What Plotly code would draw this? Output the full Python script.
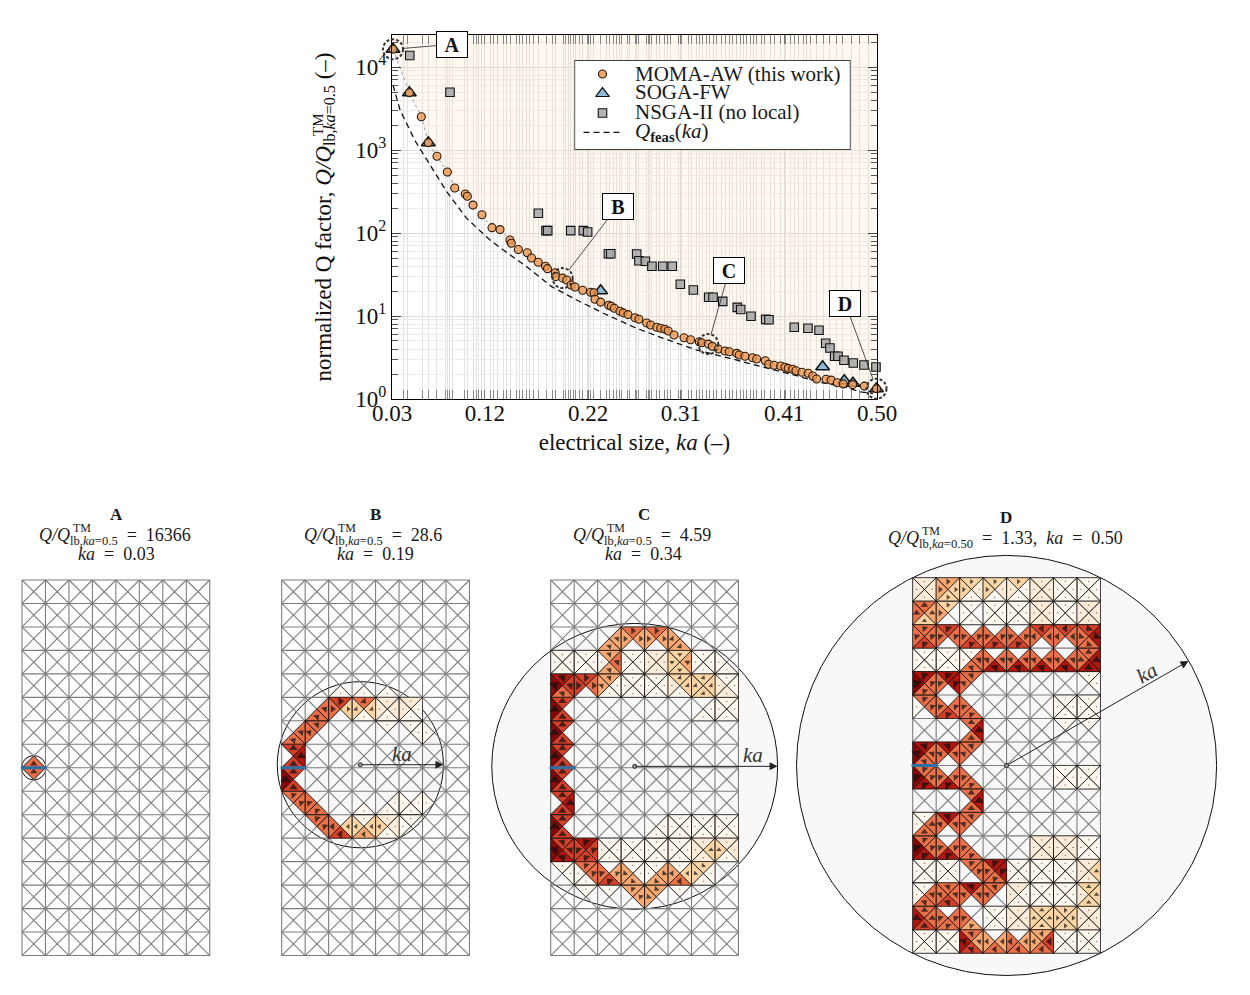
import math
import plotly.graph_objects as go

# ---------- main chart data ----------
moma_ka = [0.031,0.0468,0.0584,0.0652,0.0736,0.0836,0.0908,0.101,0.103,0.1085,0.1172,0.1269,0.1347,0.1443,0.1456,
           0.1524,0.1611,0.1652,0.1717,0.1787,0.1807,0.1882,0.1886,0.1954,0.1993,0.2035,0.2073,0.2148,0.2225,0.2257,
           0.2267,0.2322,0.24,0.2425,0.2454,0.2509,0.2541,0.2587,0.2655,0.2693,0.2768,0.2807,0.2865,0.2904,0.2945,
           0.2977,0.3033,0.313,0.3194,0.3278,0.3301,0.3365,0.3404,0.3462,0.3527,0.3568,0.364,0.3665,0.3721,0.3795,
           0.3834,0.3917,0.395,0.4002,0.4067,0.4108,0.414,0.4183,0.4215,0.4273,0.4334,0.4377,0.4415,0.4506,0.4554,
           0.4615,0.4673,0.4764,0.4877,0.4995]
moma_q = [16366,4900,2520,1224,840,543,349,295,277,217,166,116,110,82.4,75.2,
          63.2,57.9,50.0,44.4,39.7,37.2,33.2,29.8,28.6,27.2,23.6,22.4,20.4,19.3,19.1,
          15.9,14.7,13.5,13.1,12.4,11.4,10.9,10.4,9.51,9.15,8.24,7.79,7.31,7.11,6.92,
          6.60,5.90,5.48,5.18,4.90,4.77,4.59,4.31,4.00,3.79,3.71,3.55,3.39,3.27,3.14,
          3.03,2.89,2.62,2.55,2.50,2.41,2.34,2.28,2.19,2.10,2.04,1.89,1.74,1.73,1.69,
          1.57,1.52,1.49,1.43,1.33]
soga_ka = [0.031,0.0468,0.0652,0.2322,0.4473,0.4683,0.4767,0.4995]
soga_q = [16366,4900,1224,20.2,2.45,1.66,1.55,1.33]
nsga_ka = [0.0472,0.0862,0.1718,0.1792,0.1809,0.2032,0.2154,0.2196,0.2397,0.242,0.2671,0.2693,0.2755,0.2819,0.2923,
           0.3016,0.3094,0.322,0.3369,0.3411,0.3505,0.3646,0.3679,0.3779,0.3921,0.3953,0.4198,0.4331,0.4438,0.4503,
           0.4544,0.459,0.4622,0.468,0.477,0.4874,0.499]
nsga_q = [13800,4960,173,107,107,107,107,103,56.3,56.3,55.9,46.4,45.6,39.7,39.7,
          39.7,24.1,20.6,16.8,16.8,15.0,12.7,12.0,9.92,9.12,9.02,7.31,7.11,6.73,4.69,
          4.12,3.27,3.27,2.93,2.71,2.57,2.43]
feas_ka = [0.031,0.0378,0.0523,0.07,0.083,0.1024,0.125,0.1379,0.1605,0.1847,0.209,0.2348,0.2671,0.2929,0.3253,
           0.3575,0.3898,0.4222,0.4415,0.4673,0.4835,0.4961]
feas_q = [6070,3030,1295,574,315,150,82.4,62.4,39.3,22.6,15.6,10.8,7.11,5.39,3.89,
          3.09,2.45,1.91,1.62,1.41,1.22,1.17]
x_tick_vals = [0.03,0.12,0.22,0.31,0.41,0.50]
x_tick_text = ["0.03","0.12","0.22","0.31","0.41","0.50"]
y_tick_vals = [1,10,100,1000,10000]
y_tick_text = ["10<sup>0</sup>","10<sup>1</sup>","10<sup>2</sup>","10<sup>3</sup>","10<sup>4</sup>"]
x_minor = [0.0416,0.0455,0.0591,0.0649,0.0736,0.0814,0.0833,0.0862,0.0891,0.1007,0.1027,0.1085,0.1114,0.1143,0.1172,
           0.1201,0.125,0.1279,0.1327,0.1376,0.1414,0.1453,0.1511,0.154,0.1569,0.1608,0.1637,0.1676,0.1715,0.1802,
           0.1857,0.1889,0.196,0.1986,0.2008,0.2032,0.2057,0.2083,0.2115,0.2148,0.2192,0.2219,0.2251,0.2316,0.238,
           0.2406,0.2444,0.2471,0.2503,0.2526,0.258,0.2606,0.2655,0.2674,0.2693,0.2768,0.2781,0.28,0.2819,0.2865,
           0.2897,0.2945,0.2968,0.3001,0.3074,0.3107,0.3171,0.3204,0.3246,0.3278,0.3311,0.3349,0.3381,0.3413,0.3449,
           0.3491,0.3536,0.3568,0.3601,0.3643,0.3675,0.3708,0.374,0.3772,0.3805,0.3837,0.3885,0.3914,0.3966,0.4011,
           0.4063,0.4111,0.416,0.4205,0.4244,0.4283,0.4321,0.436,0.4418,0.4486,0.4544,0.4612,0.467,0.4757,0.4835,0.4922]
y_minor = [m * 10 ** e for e in range(5) for m in range(2, 10) if m * 10 ** e < 24000]
legend_labels = ["MOMA-AW (this work)", "SOGA-FW", "NSGA-II (no local)", "Qfeas(ka)"]
callout_names = ["A", "B", "C", "D"]
callout_ka = [0.031, 0.1954, 0.3365, 0.4995]
callout_q = [16366, 28.6, 4.59, 1.33]

# ---------- mesh panels: per cell top/right/bottom/left current level, '.' = no metal ----------
panel_a_rows = {7: "..5. .... .... .... .... .... .... ....",
                8: "5... .... .... .... .... .... .... ...."}
panel_b_rows = {4: ".... .... ..1. ..1. ..1. .... .... ....",
                5: ".... .55. 63.5 5313 2212 2112 .... ....",
                6: ".55. 5..5 .... .... 1... 11.. ...1 ....",
                7: "676. .... .... .... .... .... .... ....",
                8: "6.68 .... .... .... .... .... .... ....",
                9: "55.. ..55 .... ..1. .11. .111 ...1 ....",
                10: ".... 55.. .365 1343 2213 1..1 .... ...."}
panel_c_rows = {2: ".... .... .44. 54.4 54.4 ..44 .... ....",
                3: "1111 1111 4541 1111 2222 3433 1111 ..11",
                4: "7658 65.6 4114 1111 1111 3312 3333 1122",
                5: "6.68 .... .... .... .... .... .11. 1111",
                6: "6.68 .... .... .... .... .... .... ....",
                7: "6.68 .... .... .... .... .... .... ....",
                8: "6.68 .... .... .... .... .... .... ....",
                9: "676. .... .... .... .... .... .... ....",
                10: "6.68 .... .... .... .11. 1111 1111 1111",
                11: "6678 7666 1111 1111 1111 1111 2322 2213",
                12: "11.. 5511 .465 1144 1441 1354 3113 ....",
                13: ".... 1... 1... 44.. 4..4 1... .... ...."}
panel_d_rows = {0: "2222 4334 3213 3213 3112 2222 1111 1111",
                1: "5435 3..4 1.11 1111 1111 2222 1111 2222",
                2: "5565 65.5 .565 .565 .565 65.5 65.5 6755",
                3: "1111 1111 1551 .575 .575 .575 .575 5775",
                4: "7558 77.5 5..5 .... .... .... .... 11..",
                5: "55.1 .565 ..55 .... .... .... 1111 1111",
                6: ".... .... 575. .... .... .... 1... 1...",
                7: "7558 75.5 5..5 .... .... .... .... ....",
                8: "5578 .575 ..55 .... .... .... 1111 1111",
                9: ".... .... 575. .... .... .... .... ....",
                10: "1551 75.5 5..5 .... .... .... .... ....",
                11: "5578 .575 ..55 .... .... 2222 2222 1111",
                12: "1111 1111 55.. 7755 1111 1111 1111 2322",
                13: "1551 5565 75.5 5..5 2112 1111 1111 3332",
                14: "5567 .555 ..45 1111 2222 3333 3333 2222",
                15: "1111 1111 5467 .454 .455 4654 1111 1111"}
# arrow heading per cell: N E S W, a=NE b=SE c=SW d=NW
panel_a_dirs = {7: "N.......", 8: "N......."}
panel_b_dirs = {5: ".aEbbb..", 6: "aa......", 7: "N.......", 8: "N.......", 9: "dd......", 10: ".dWWWW.."}
panel_c_dirs = {2: "..aEEb..", 3: "..a..S..", 4: "aEa..bb.", 5: "N.......", 6: "N.......", 7: "N.......",
                8: "N.......", 9: "N.......", 10: "N.......", 11: "ad......", 12: ".ddccWc.", 13: "...dc..."}
panel_d_dirs = {0: "aEEEEEEE", 1: "NE......", 2: "dddddWWc", 3: "..aaaaaN", 4: "dda.....", 5: "ddd.....",
                6: "..N.....", 7: "aaa.....", 8: "ddd.....", 9: "..N.....", 10: ".aa.....", 11: "ddd.....",
                12: "..dd....", 13: "aaaa....", 14: "Nddd..EE", 15: "..aWWW.."}
N_COLS, N_ROWS = 8, 16

# ---------- styling ----------
FONT = "Liberation Serif"
W, H, OFF = 1234, 979, 8
CELL = 23.47
KA_PER_PX = 0.47 / 485
PX_PER_DEC = 83.0
LEVEL_COLORS = {"1": "#fff8ef", "2": "#feecd8", "3": "#fdd5a5", "4": "#f7a873",
                "5": "#ea7049", "6": "#d4402a", "7": "#b3150f", "8": "#8a0606"}
HEADING = {"N": 0, "a": 45, "E": 90, "b": 135, "S": 180, "c": 225, "W": 270, "d": 315, ".": 0}
px = lambda p: (p - OFF) / W
py = lambda p: 1 - (p - OFF) / H

fig = go.Figure()
annotations, shapes, layout_axes = [], [], {}


def text(x, y, s, size=16, anchor="center", color="#1a1a1a", angle=0):
    annotations.append(dict(xref="paper", yref="paper", x=px(x), y=py(y), text=s, showarrow=False,
                            xanchor=anchor, yanchor="middle", textangle=angle,
                            font=dict(family=FONT, size=size, color=color)))


# ---------- main axes ----------
layout_axes["xaxis"] = dict(
    domain=[px(392), px(877)], range=[0.03, 0.5], tickmode="array", tickvals=x_tick_vals, ticktext=x_tick_text,
    ticks="inside", ticklen=9, tickcolor="#777", tickfont=dict(family=FONT, size=23, color="#111"),
    ticklabelstandoff=-7, showline=True, linecolor="black", linewidth=1.3, mirror="allticks", showgrid=True,
    gridcolor="#dcdcdc", zeroline=False, anchor="y", automargin=False,
    minor=dict(tickmode="array", tickvals=x_minor, ticks="inside", ticklen=9, tickcolor="#888",
               showgrid=True, gridcolor="#e2e2e2", gridwidth=1),
    title=dict(text="electrical size, <i>ka</i> (–)", font=dict(family=FONT, size=23, color="#111"), standoff=9))
layout_axes["yaxis"] = dict(
    domain=[py(399), py(35)], type="log", range=[0, 4.386], tickmode="array", tickvals=y_tick_vals,
    ticktext=y_tick_text, ticks="inside", ticklen=9, tickcolor="#444", automargin=False,
    tickfont=dict(family=FONT, size=23, color="#111"), showline=True, linecolor="black", linewidth=1.3,
    mirror="allticks", showgrid=True, gridcolor="#dcdcdc", zeroline=False, anchor="x",
    minor=dict(tickmode="array", tickvals=y_minor, ticks="inside", ticklen=6, tickcolor="#555",
               showgrid=True, gridcolor="#ececec", gridwidth=1),
    title=dict(text="normalized Q factor, <i>Q/Q</i><sub>lb,<i>ka</i>=0.5</sub> (–)",
               font=dict(family=FONT, size=23, color="#111"), standoff=17))

top_q = 10 ** 4.386
fig.add_trace(go.Scatter(x=moma_ka + [0.5, 0.03], y=moma_q + [top_q, top_q], mode="lines", fill="toself",
                         fillcolor="rgba(250,222,190,0.22)", line=dict(width=0), hoverinfo="skip", showlegend=False))
fig.add_trace(go.Scatter(x=feas_ka, y=feas_q, mode="lines", name=legend_labels[3], showlegend=False,
                         line=dict(color="#111", width=1.3, dash="6px,4px")))
fig.add_trace(go.Scatter(x=nsga_ka, y=nsga_q, mode="markers", name=legend_labels[2], showlegend=False, cliponaxis=False,
                         marker=dict(symbol="square", size=8.5, color="rgba(170,170,170,0.9)",
                                     line=dict(color="#111", width=1.1))))
fig.add_trace(go.Scatter(x=soga_ka, y=soga_q, mode="markers", name=legend_labels[1], showlegend=False, cliponaxis=False,
                         marker=dict(symbol="triangle-up", size=12, color="rgba(130,180,215,0.9)",
                                     line=dict(color="#111", width=1.5))))
fig.add_trace(go.Scatter(x=moma_ka, y=moma_q, mode="lines+markers", name=legend_labels[0], showlegend=False,
                         cliponaxis=False, line=dict(color="#777", width=0.7, dash="dot"),
                         marker=dict(symbol="circle", size=8, color="rgba(236,150,80,0.78)",
                                     line=dict(color="#2a1808", width=1.1))))

# dashed rings round the four highlighted designs, on a linear overlay so they are true circles and not clipped
callout_log = [math.log10(q) for q in callout_q]
layout_axes["xaxis7"] = dict(domain=[px(370), px(900)], visible=False, anchor="y7", automargin=False,
                             range=[0.03 + (370 - 392) * KA_PER_PX, 0.03 + (900 - 392) * KA_PER_PX])
layout_axes["yaxis7"] = dict(domain=[py(422), py(12)], visible=False, anchor="x7", automargin=False,
                             range=[(399 - 422) / PX_PER_DEC, (399 - 12) / PX_PER_DEC])
fig.add_trace(go.Scatter(x=callout_ka, y=callout_log, mode="markers", xaxis="x7", yaxis="y7", showlegend=False,
                         hoverinfo="skip", marker=dict(size=1, opacity=0)))
for ka, lq in zip(callout_ka, callout_log):
    rx, ry = 10 * KA_PER_PX, 10 / PX_PER_DEC
    shapes.append(dict(type="circle", xref="x7", yref="y7", x0=ka - rx, x1=ka + rx, y0=lq - ry, y1=lq + ry,
                       line=dict(color="#333", width=2, dash="3px,2px")))
offsets = {"A": (59, -5), "B": (55, -72), "C": (21, -74), "D": (-31, -85)}
for name, ka, q in zip(callout_names, callout_ka, callout_q):
    annotations.append(dict(xref="x", yref="y", x=ka, y=math.log10(q), text="<b>%s</b>" % name, ax=offsets[name][0],
                            ay=offsets[name][1], showarrow=True, arrowhead=0, arrowwidth=0.8, arrowcolor="#222",
                            standoff=10, bordercolor="black", borderwidth=1, bgcolor="white", width=28, height=23,
                            font=dict(family=FONT, size=20, color="#111")))
text(318, 125, "TM", 15, angle=-90)

# ---------- drawn key ----------
KEY_X = [-1.474, 13.05]
KEY_Y = [3.9, -0.72]
layout_axes["xaxis6"] = dict(domain=[px(574.5), px(850.5)], range=KEY_X, visible=False, anchor="y6", automargin=False)
layout_axes["yaxis6"] = dict(domain=[py(150), py(60)], range=KEY_Y, visible=False, anchor="x6", automargin=False)
fig.add_trace(go.Scatter(x=[KEY_X[0], KEY_X[1], KEY_X[1], KEY_X[0], KEY_X[0]],
                         y=[KEY_Y[0], KEY_Y[0], KEY_Y[1], KEY_Y[1], KEY_Y[0]], mode="lines", fill="toself",
                         fillcolor="white", line=dict(color="black", width=1.3), xaxis="x6", yaxis="y6",
                         cliponaxis=False, showlegend=False, hoverinfo="skip"))
key_styles = [dict(symbol="circle", size=8, color="rgba(236,150,80,0.85)", line=dict(color="#2a1808", width=1.1)),
              dict(symbol="triangle-up", size=12, color="rgba(130,180,215,0.9)", line=dict(color="#111", width=1.2)),
              dict(symbol="square", size=8.5, color="rgba(170,170,170,0.9)", line=dict(color="#111", width=1.1))]
for row, (label, style) in enumerate(zip(legend_labels, key_styles)):
    fig.add_trace(go.Scatter(x=[0], y=[row], mode="markers", marker=style, xaxis="x6", yaxis="y6",
                             showlegend=False, hoverinfo="skip"))
fig.add_trace(go.Scatter(x=[-1, 1], y=[3, 3], mode="lines", xaxis="x6", yaxis="y6", showlegend=False,
                         line=dict(color="#111", width=1.2, dash="6px,4px"), hoverinfo="skip"))
for label, row_y in zip(["MOMA-AW (this work)", "SOGA-FW", "NSGA-II (no local)",
                         "<i>Q</i><sub><b>feas</b></sub>(<i>ka</i>)"], [74, 92, 112, 132]):
    text(633, row_y, label, 21, anchor="left")


# ---------- mesh panels ----------
def draw_panel(n, rows, dirs, x0, y0, win, cc, cr, rad, feed_row=8):
    xa, ya = "x%d" % n, "y%d" % n
    layout_axes["xaxis%d" % n] = dict(domain=[px(win[0]), px(win[1])], visible=False, anchor=ya, automargin=False,
                                      range=[(win[0] - x0) / CELL, (win[1] - x0) / CELL])
    layout_axes["yaxis%d" % n] = dict(domain=[py(win[3]), py(win[2])], visible=False, anchor=xa, automargin=False,
                                      range=[(win[3] - y0) / CELL, (win[2] - y0) / CELL])
    shapes.append(dict(type="circle", xref=xa, yref=ya, x0=cc - rad, x1=cc + rad, y0=cr - rad, y1=cr + rad,
                       layer="below", fillcolor="#f8f8f8", line=dict(color="#111", width=1)))
    mx, my = [], []
    for i in range(N_COLS + 1):
        mx += [i, i, None]; my += [0, N_ROWS, None]
    for j in range(N_ROWS + 1):
        mx += [0, N_COLS, None]; my += [j, j, None]
    for j in range(N_ROWS):
        for i in range(N_COLS):
            mx += [i, i + 1, None, i + 1, i, None]; my += [j, j + 1, None, j, j + 1, None]
    fig.add_trace(go.Scatter(x=mx, y=my, mode="lines", xaxis=xa, yaxis=ya, showlegend=False, hoverinfo="skip",
                             line=dict(color="#7d7d7d", width=1.1)))
    polys = {k: ([], []) for k in LEVEL_COLORS}
    ax, ay, asize, aangle = [], [], [], []
    for j, row in rows.items():
        row_dirs = dirs.get(j, "." * N_COLS)
        for i, cell in enumerate(row.split()):
            corners = [((i, j), (i + 1, j)), ((i + 1, j), (i + 1, j + 1)),
                       ((i + 1, j + 1), (i, j + 1)), ((i, j + 1), (i, j))]
            mid = (i + 0.5, j + 0.5)
            for side, lev in enumerate(cell):
                if lev == ".":
                    continue
                a, b = corners[side]
                polys[lev][0].extend([a[0], b[0], mid[0], a[0], None])
                polys[lev][1].extend([a[1], b[1], mid[1], a[1], None])
                ax.append((a[0] + b[0] + mid[0]) / 3)
                ay.append((a[1] + b[1] + mid[1]) / 3)
                asize.append(1.6 if int(lev) < 3 else 2.0 + 0.9 * int(lev))
                aangle.append(HEADING[row_dirs[i]])
    for lev, (vx, vy) in polys.items():
        if vx:
            fig.add_trace(go.Scatter(x=vx, y=vy, mode="lines", fill="toself", fillcolor=LEVEL_COLORS[lev],
                                     xaxis=xa, yaxis=ya, showlegend=False, hoverinfo="skip",
                                     line=dict(color="#111", width=0.7)))
    fig.add_trace(go.Scatter(x=ax, y=ay, mode="markers", xaxis=xa, yaxis=ya, showlegend=False, hoverinfo="skip",
                             marker=dict(symbol="triangle-up", size=asize, angle=aangle, color="#111", line=dict(width=0))))
    fig.add_trace(go.Scatter(x=[-0.05, 1.05], y=[feed_row, feed_row], mode="lines", xaxis=xa, yaxis=ya,
                             showlegend=False, hoverinfo="skip", line=dict(color="#2f6fa8", width=3)))


draw_panel(2, panel_a_rows, panel_a_dirs, 22, 580, (14, 220, 570, 965), 0.5, 8, 0.52)
draw_panel(3, panel_b_rows, panel_b_dirs, 281.7, 580, (272, 478, 570, 965), 3.35, 7.87, 3.54)
draw_panel(4, panel_c_rows, panel_c_dirs, 550.7, 580, (487, 782, 570, 965), 3.58, 7.94, 6.09)
draw_panel(5, panel_d_rows, panel_d_dirs, 912.7, 577.7, (792, 1222, 552, 980), 4.0, 8.0, 8.95)


def radius_arrow(n, cc, cr, tx, ty):
    xa, ya = "x%d" % n, "y%d" % n
    fig.add_trace(go.Scatter(x=[cc], y=[cr], mode="markers", xaxis=xa, yaxis=ya, showlegend=False, hoverinfo="skip",
                             marker=dict(symbol="circle", size=4, color="#999", line=dict(color="#222", width=1))))
    annotations.append(dict(xref=xa, yref=ya, x=tx, y=ty, axref=xa, ayref=ya, ax=cc, ay=cr, text="", showarrow=True,
                            arrowhead=2, arrowsize=1.6, arrowwidth=1, arrowcolor="#222"))


radius_arrow(3, 3.35, 7.87, 6.89, 7.87)
radius_arrow(4, 3.58, 7.94, 9.67, 7.94)
radius_arrow(5, 4.0, 8.0, 11.75, 3.55)
text(402, 754, "<i>ka</i>", 21, color="#333")
text(753, 755, "<i>ka</i>", 21, color="#333")
text(1147, 673, "<i>ka</i>", 21, color="#333", angle=-30)

# ---------- panel captions ----------
q_label = "<i>Q/Q</i><sub>lb,<i>ka</i>=0.5</sub>"
for cx, left, title, q_txt, ka_txt in [(116, 37, "A", "16366", "0.03"), (375, 302, "B", "28.6", "0.19"),
                                       (644, 571, "C", "4.59", "0.34")]:
    text(cx, 514, "<b>%s</b>" % title, 17)
    text(left, 536, "%s  =  %s" % (q_label, q_txt), 18, anchor="left")
    text(cx, 554, "<i>ka</i>  =  %s" % ka_txt, 18)
    text(left + 34, 528, "TM", 12, anchor="left")
text(1006, 517, "<b>D</b>", 17)
text(886, 539, "<i>Q/Q</i><sub>lb,<i>ka</i>=0.50</sub>  =  1.33,  <i>ka</i>  =  0.50", 18, anchor="left")
text(920, 531, "TM", 12, anchor="left")

fig.update_layout(width=W, height=H, margin=dict(l=0, r=0, t=0, b=0), paper_bgcolor="white",
                  plot_bgcolor="rgba(0,0,0,0)", showlegend=False, annotations=annotations, shapes=shapes,
                  font=dict(family=FONT), **layout_axes)
fig.write_html("out.html")
